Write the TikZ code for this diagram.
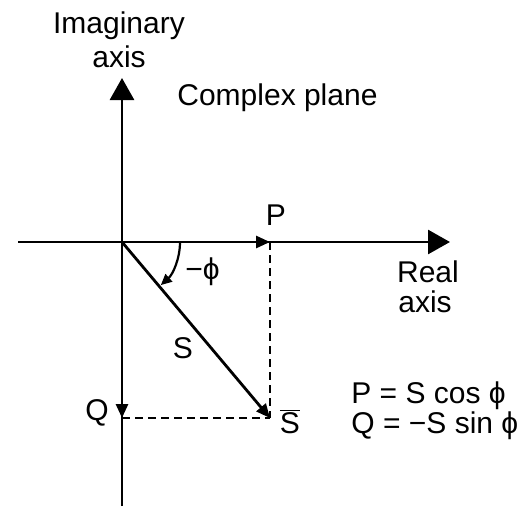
\documentclass[tikz,border=0pt]{standalone}
\usepackage{fontspec}
\setmainfont{Liberation Sans}
\usetikzlibrary{arrows.meta}
\begin{document}
\begin{tikzpicture}[x=1pt,y=-1pt,line width=2.8pt,
  lbl/.style={inner sep=0pt,anchor=base,font=\fontsize{30}{32}\selectfont},
  bigtip/.style={-{Triangle[length=22pt,width=24pt]}},
  smalltip/.style={-{Triangle[length=14pt,width=12pt]}},
  dsh/.style={line width=2.4pt,dash pattern=on 8pt off 5pt}]
\useasboundingbox (0,0) rectangle (525,509);
\coordinate (O) at (122,242);
\coordinate (xl) at (18,242);
\coordinate (xr) at (450,242);
\coordinate (yb) at (122,506);
\coordinate (yt) at (122,78);
\coordinate (Pp) at (270,242);
\coordinate (Qp) at (122,418);
\coordinate (Sp) at (270,418);
\draw[bigtip] (xl) -- (xr);
\draw[bigtip] (yb) -- (yt);
\draw[smalltip] (O) -- (Pp);
\draw[smalltip] (O) -- (Qp);
\draw[smalltip] (O) -- (Sp);
\draw[dsh] (Pp) -- (Sp);
\draw[dsh] (Qp) -- (Sp);
\draw[line width=2.2pt,-{Triangle[length=11pt,width=10pt]}] ([shift={(0:58)}]O) arc[start angle=0,end angle=48,radius=58];
\node[lbl] (im1) at (119,33) {Imaginary};
\node[lbl] (im2) at (119,67) {axis};
\node[lbl,anchor=base west] (cp) at (176,105) {Complex plane};
\node[lbl] (P) at (276,225) {P};
\node[lbl,anchor=base west] (phi) at (184,279) {−ϕ};
\node[lbl] (re1) at (428,282) {Real};
\node[lbl] (re2) at (425,312) {axis};
\node[lbl] (S) at (183,358) {S};
\node[lbl] (Q) at (97,420) {Q};
\node[lbl] (Sb) at (290,433) {$\overline{\mbox{S}}$};
\node[lbl,anchor=base west] (eq1) at (350,403) {P = S cos ϕ};
\node[lbl,anchor=base west] (eq2) at (350,433) {Q = −S sin ϕ};
\end{tikzpicture}
\end{document}
